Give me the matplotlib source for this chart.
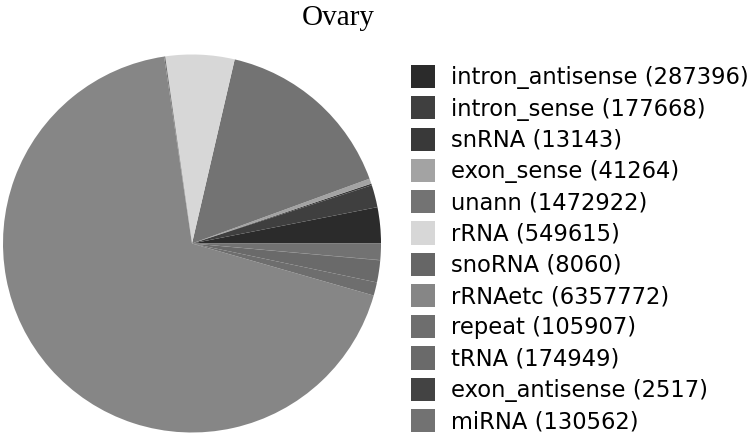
import matplotlib
matplotlib.use("Agg")
import matplotlib.pyplot as plt

# datos
categorias = ["intron_antisense", "intron_sense", "snRNA", "exon_sense", "unann",
              "rRNA", "snoRNA", "rRNAetc", "repeat", "tRNA", "exon_antisense", "miRNA"]
conteos = [287396, 177668, 13143, 41264, 1472922, 549615, 8060, 6357772,
           105907, 174949, 2517, 130562]
colores = ["#2b2b2b", "#3f3f3f", "#393939", "#a3a3a3", "#737373", "#d7d7d7",
           "#666666", "#868686", "#6e6e6e", "#6a6a6a", "#434343", "#727272"]

W, H = 756, 442
fig = plt.figure(figsize=(W / 100, H / 100), dpi=100)

# pie: centro (192, 243.5), radio 189 px
cx, cy, r = 192, 243.5, 189
ax = fig.add_axes([(cx - r) / W, (H - cy - r) / H, 2 * r / W, 2 * r / H])
wedges, _ = ax.pie(conteos, colors=colores, startangle=0, counterclock=True,
                   wedgeprops=dict(linewidth=0))
ax.set_xlim(-1, 1)
ax.set_ylim(-1, 1)
ax.set_aspect("equal")
ax.axis("off")

fig.text(338 / W, 1 - 18 / H, "Ovary", ha="center", va="center",
         family="Liberation Serif", fontsize=21)

etiquetas = [f"{c} ({n})" for c, n in zip(categorias, conteos)]
fs = 16.3
fig.legend(wedges, etiquetas, loc="upper left",
           bbox_to_anchor=(411 / W, 1 - 65 / H), frameon=False,
           prop=dict(family="DejaVu Sans", size=fs),
           borderpad=0, borderaxespad=0, handlelength=1.06, handleheight=1.2,
           handletextpad=0.71, labelspacing=0.31)

fig.savefig("out.png", dpi=100)
